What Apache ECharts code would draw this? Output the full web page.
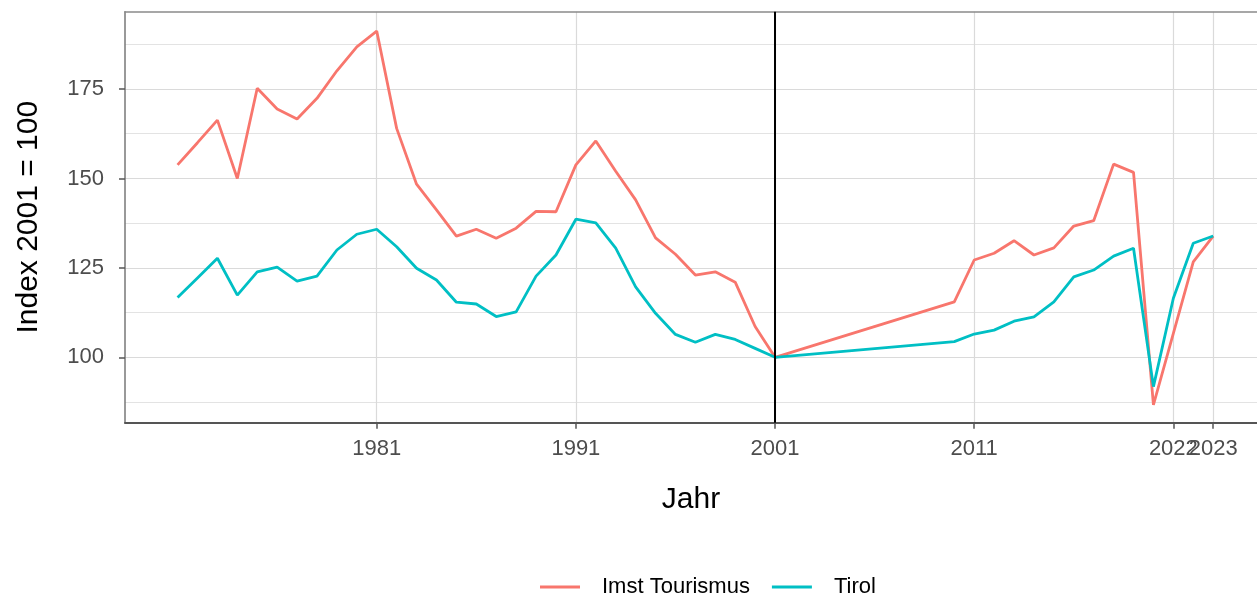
<!DOCTYPE html>
<html>
<head>
<meta charset="utf-8">
<script src="https://cdn.jsdelivr.net/npm/echarts@6/dist/echarts.min.js"></script>
<style>
  html, body { margin: 0; padding: 0; background: #fff; }
  #main { width: 1257px; height: 597px; }
</style>
</head>
<body>
<div id="main"></div>
<script>
// Imst Tourismus (Index 2001 = 100)
var imstYears = [1971, 1972, 1973, 1974, 1975, 1976, 1977, 1978, 1979, 1980,
                 1981, 1982, 1983, 1984, 1985, 1986, 1987, 1988, 1989, 1990,
                 1991, 1992, 1993, 1994, 1995, 1996, 1997, 1998, 1999, 2000,
                 2001, 2010, 2011, 2012, 2013, 2014, 2015, 2016, 2017, 2018,
                 2019, 2020, 2022, 2023];
var imstValues = [153.8, 160.0, 166.3, 150.0, 175.2, 169.4, 166.6, 172.4, 180.1, 186.8,
                  191.2, 164.0, 148.4, 141.2, 133.9, 135.8, 133.3, 136.1, 140.8, 140.7,
                  153.8, 160.5, 152.0, 144.0, 133.4, 128.8, 123.0, 123.9, 121.0, 108.6,
                  100.0, 115.5, 127.2, 129.1, 132.6, 128.6, 130.6, 136.7, 138.2, 154.0,
                  151.7, 86.7, 126.7, 133.9];

// Tirol
var tirolYears = [1971, 1972, 1973, 1974, 1975, 1976, 1977, 1978, 1979, 1980,
                  1981, 1982, 1983, 1984, 1985, 1986, 1987, 1988, 1989, 1990,
                  1991, 1992, 1993, 1994, 1995, 1996, 1997, 1998, 1999, 2000,
                  2001, 2010, 2011, 2012, 2013, 2014, 2015, 2016, 2017, 2018,
                  2019, 2020, 2021, 2022, 2023];
var tirolValues = [116.7, 122.2, 127.7, 117.4, 123.9, 125.2, 121.3, 122.7, 130.0, 134.4,
                   135.8, 130.9, 124.9, 121.6, 115.4, 114.9, 111.4, 112.7, 122.7, 128.6,
                   138.6, 137.6, 130.5, 119.7, 112.3, 106.4, 104.2, 106.4, 105.0, 102.5,
                   100.0, 104.4, 106.5, 107.6, 110.1, 111.3, 115.5, 122.5, 124.4, 128.3,
                   130.5, 91.8, 116.5, 131.9, 133.9];

// axis ticks
var xTickPos = [1981, 1991, 2001, 2011, 2021, 2023];
var xTickLabels = ['1981', '1991', '2001', '2011', '2022', '2023'];
var yTicks = [100, 125, 150, 175];
var yMinorTicks = [87.5, 112.5, 137.5, 162.5, 187.5];
var refYear = 2001;

function pairs(xs, ys) {
    var out = [];
    for (var i = 0; i < xs.length; i++) out.push([xs[i], ys[i]]);
    return out;
}
function tickLabel(v) {
    var i = xTickPos.indexOf(v);
    return i >= 0 ? xTickLabels[i] : '';
}

// the two last labels overlap, so they go on separate (overlaid) axes
var xTickPosA = xTickPos.filter(function (v, i) { return i !== xTickPos.length - 2; });
var xTickPosB = [xTickPos[xTickPos.length - 2]];

var font = "'Liberation Sans', Arial, sans-serif";
var xMin = 1968.36, xMax = 2025.2;
var yMin = 81.72, yMax = 196.62;

var labelStyle = {
    hideOverlap: false,
    margin: 15,
    fontFamily: font,
    fontSize: 22,
    color: '#4d4d4d',
    formatter: tickLabel
};

var myChart = echarts.init(document.getElementById('main'));
var option = {
    animation: false,
    backgroundColor: '#fff',
    grid: {
        left: 125,
        right: -2,
        top: 11.7,
        height: 411
    },
    xAxis: [{
        type: 'value',
        position: 'bottom',
        min: xMin,
        max: xMax,
        name: 'Jahr',
        nameLocation: 'middle',
        nameGap: 62,
        nameTextStyle: { fontFamily: font, fontSize: 30, color: '#000' },
        axisLine: { show: true, lineStyle: { color: '#555', width: 2 } },
        axisTick: { show: true, customValues: xTickPos, length: 6, lineStyle: { color: '#555', width: 1.5 } },
        axisLabel: echarts.util.extend({ customValues: xTickPosA }, labelStyle),
        splitLine: { show: true, lineStyle: { color: '#dadada', width: 1.2 } }
    }, {
        type: 'value',
        position: 'top',
        min: xMin,
        max: xMax,
        axisLine: { show: true, lineStyle: { color: '#8a8a8a', width: 1.5 } },
        axisTick: { show: false },
        axisLabel: { show: false },
        splitLine: { show: false }
    }, {
        type: 'value',
        position: 'bottom',
        min: xMin,
        max: xMax,
        axisLine: { show: false },
        axisTick: { show: false, customValues: xTickPosB },
        axisLabel: echarts.util.extend({ customValues: xTickPosB }, labelStyle),
        splitLine: { show: false }
    }],
    yAxis: [{
        type: 'value',
        min: yMin,
        max: yMax,
        name: 'Index 2001 = 100',
        nameLocation: 'middle',
        nameRotate: 90,
        nameGap: 81,
        nameTextStyle: { fontFamily: font, fontSize: 30, color: '#000' },
        axisLine: { show: true, lineStyle: { color: '#777', width: 1.5 } },
        axisTick: { show: true, customValues: yTicks, length: 6, lineStyle: { color: '#555', width: 1.5 } },
        axisLabel: { customValues: yTicks, margin: 21, fontFamily: font, fontSize: 22, color: '#4d4d4d' },
        splitLine: { show: true, lineStyle: { color: '#dadada', width: 1.2 } }
    }, {
        type: 'value',
        position: 'left',
        min: yMin,
        max: yMax,
        axisLine: { show: false },
        axisTick: { show: false, customValues: yMinorTicks },
        axisLabel: { show: false, customValues: yMinorTicks },
        splitLine: { show: true, lineStyle: { color: '#e3e3e3', width: 1 } }
    }],
    legend: {
        data: [
            { name: 'Imst Tourismus', icon: 'rect' },
            { name: 'Tirol', icon: 'rect' }
        ],
        left: 535,
        top: 571,
        orient: 'horizontal',
        itemWidth: 40,
        itemHeight: 3,
        itemGap: 22,
        textStyle: { fontFamily: font, fontSize: 22, color: '#000', padding: [0, 0, 0, 17] }
    },
    series: [{
        name: 'Imst Tourismus',
        type: 'line',
        data: pairs(imstYears, imstValues),
        showSymbol: false,
        symbol: 'none',
        color: '#F8766D',
        itemStyle: { color: '#F8766D' },
        lineStyle: { width: 2.8, color: '#F8766D' },
        z: 3
    }, {
        name: 'Tirol',
        type: 'line',
        data: pairs(tirolYears, tirolValues),
        showSymbol: false,
        symbol: 'none',
        color: '#00BFC4',
        itemStyle: { color: '#00BFC4' },
        lineStyle: { width: 2.8, color: '#00BFC4' },
        z: 4,
        markLine: {
            silent: true,
            symbol: 'none',
            label: { show: false },
            lineStyle: { color: '#000', width: 2, type: 'solid' },
            data: [{ xAxis: refYear }]
        }
    }]
};
myChart.setOption(option);
</script>
</body>
</html>
